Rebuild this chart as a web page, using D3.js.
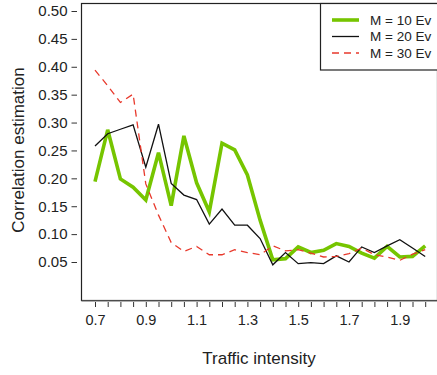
<!DOCTYPE html>
<html><head><meta charset="utf-8">
<script src="https://cdn.jsdelivr.net/npm/d3@7"></script>
<style>html,body{margin:0;padding:0;background:#fff;}svg{display:block;font-family:"Liberation Sans",Arial,Helvetica,sans-serif;}</style>
</head><body>
<svg id="c" width="437" height="375"></svg>
<script>
const intensity = [0.7,0.75,0.8,0.85,0.9,0.95,1.0,1.05,1.1,1.15,1.2,1.25,1.3,1.35,1.4,1.45,1.5,1.55,1.6,1.65,1.7,1.75,1.8,1.85,1.9,1.95,2.0];
const m10 = [0.194,0.287,0.199,0.184,0.161,0.246,0.151,0.276,0.192,0.14,0.263,0.251,0.206,0.125,0.054,0.056,0.077,0.067,0.071,0.083,0.078,0.066,0.057,0.078,0.059,0.06,0.079];
const m20 = [0.258,0.280,0.288,0.296,0.220,0.297,0.191,0.170,0.162,0.118,0.145,0.116,0.116,0.092,0.045,0.067,0.047,0.049,0.047,0.061,0.050,0.077,0.067,0.079,0.090,0.075,0.060];
const m30 = [0.394,0.366,0.336,0.351,0.19,0.134,0.085,0.069,0.078,0.063,0.063,0.072,0.067,0.063,0.079,0.07,0.072,0.066,0.059,0.06,0.065,0.075,0.063,0.059,0.053,0.064,0.072];
const xTickLabels = [0.7,0.9,1.1,1.3,1.5,1.7,1.9];
const yTickValues = [0.05,0.10,0.15,0.20,0.25,0.30,0.35,0.40,0.45,0.50];
const seriesNames = ["M = 10 Ev","M = 20 Ev","M = 30 Ev"];

const svg = d3.select("#c");
const x = d3.scaleLinear().domain([0.7,2.0]).range([95,425.2]);
const y = d3.scaleLinear().domain([0.05,0.50]).range([262,11]);

const series = [
  {name:seriesNames[0], vals:m10, color:"#76c500", width:3.6, dash:null},
  {name:seriesNames[1], vals:m20, color:"#111111", width:1.3, dash:null},
  {name:seriesNames[2], vals:m30, color:"#e8392c", width:1.3, dash:"7,5"}
];

// plot box
svg.append("rect").attr("x",81.5).attr("y",3.5).attr("width",356).attr("height",297)
  .attr("fill","none").attr("stroke","#222").attr("stroke-width",1.2);

// lines
const line = d3.line().x((d,i)=>x(intensity[i])).y(d=>y(d));
series.forEach(s=>{
  svg.append("path").datum(s.vals).attr("d",line).attr("fill","none")
    .attr("stroke",s.color).attr("stroke-width",s.width)
    .attr("stroke-linejoin","miter").attr("stroke-dasharray",s.dash);
});

// y axis
const yAxis = d3.axisLeft(y).tickValues(yTickValues).tickFormat(d3.format(".2f")).tickSize(5.5).tickPadding(4);
const gy = svg.append("g").attr("transform","translate(77,0)").call(yAxis);
gy.select(".domain").remove();
gy.selectAll("line").attr("stroke","#333");
gy.selectAll("text").attr("font-size",15).attr("fill","#222").attr("font-family","Liberation Sans, Arial, sans-serif");

// x axis
const xTicks = d3.range(0,27).map(i=>0.7+i*0.05);
const xAxis = d3.axisBottom(x).tickValues(xTicks).tickSize(5).tickPadding(8)
  .tickFormat(d=> xTickLabels.some(v=>Math.abs(v-d)<1e-6) ? d3.format(".1f")(d) : "");
const gx = svg.append("g").attr("transform","translate(0,302)").call(xAxis);
gx.select(".domain").remove();
gx.selectAll("line").attr("stroke","#333");
gx.selectAll("text").attr("font-size",14.5).attr("fill","#222").attr("font-family","Liberation Sans, Arial, sans-serif");
svg.append("line").attr("x1",81.5).attr("x2",437).attr("y1",301).attr("y2",301).attr("stroke","#777").attr("stroke-width",1);

// axis titles
svg.append("text").attr("x",259).attr("y",364).attr("text-anchor","middle").attr("font-size",17).attr("fill","#222").text("Traffic intensity");
svg.append("text").attr("transform","translate(24,150) rotate(-90)").attr("text-anchor","middle").attr("font-size",17).attr("fill","#222").text("Correlation estimation");

// legend
svg.append("rect").attr("x",320.5).attr("y",3.5).attr("width",118).attr("height",66.5)
  .attr("fill","#fff").attr("stroke","#222").attr("stroke-width",1.2);
series.forEach((s,i)=>{
  const ly = 20 + i*16.5;
  svg.append("line").attr("x1",332).attr("x2",359).attr("y1",ly).attr("y2",ly)
    .attr("stroke",s.color).attr("stroke-width",s.width).attr("stroke-dasharray",s.dash);
  svg.append("text").attr("x",370).attr("y",ly+4.6).attr("font-size",13.5).attr("fill","#222").text(s.name);
});
</script>
</body></html>
